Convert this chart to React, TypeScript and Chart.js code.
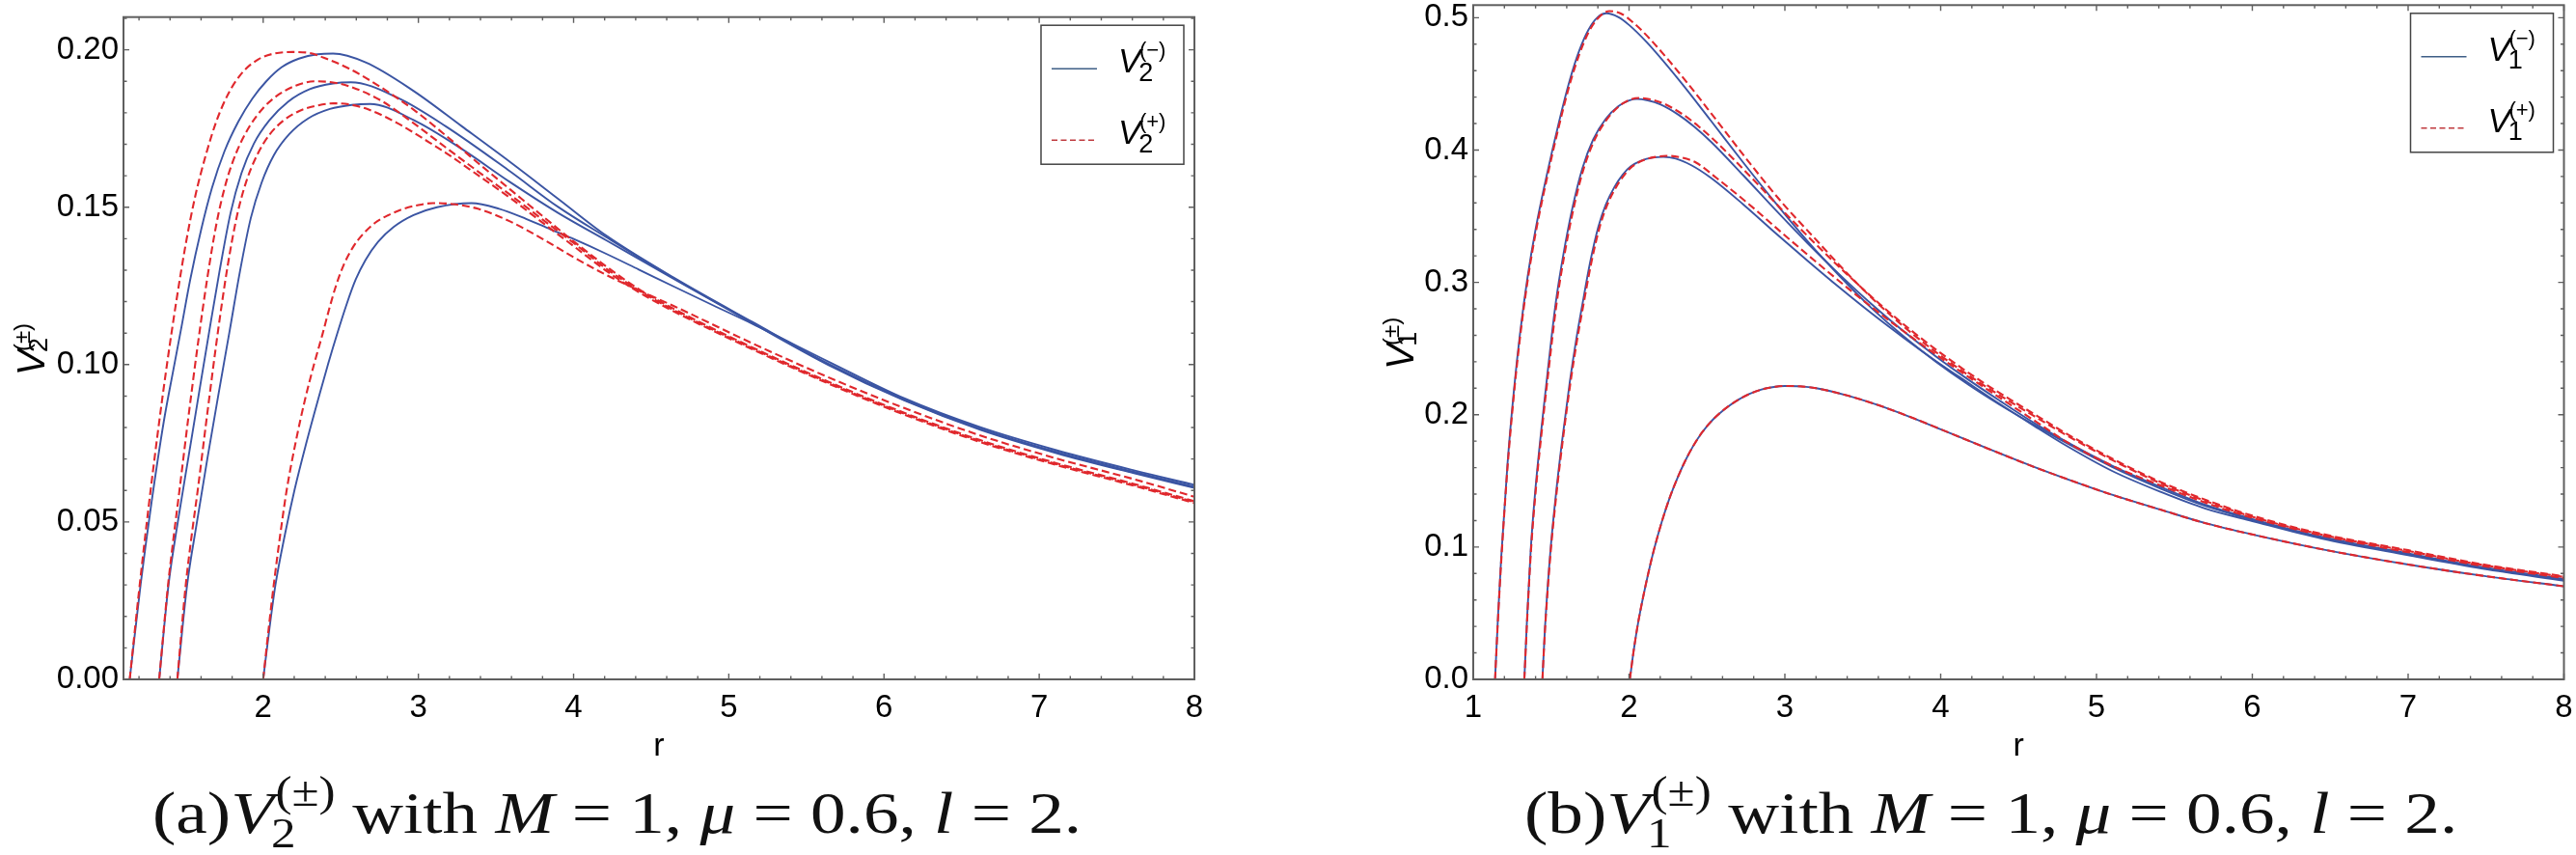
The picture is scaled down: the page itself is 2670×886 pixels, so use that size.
import React, { useEffect, useRef } from 'react';
import { Chart, registerables } from 'chart.js';

Chart.register(...registerables);

// ---------- panel (a): V2, blue = V2(-), red dashed = V2(+) ----------
const r2m1 = [1.14, 1.21, 1.28, 1.36, 1.42, 1.47, 1.53, 1.6, 1.67, 1.75, 1.84, 1.93, 2.02, 2.12, 2.23, 2.35, 2.45, 2.66, 2.97, 3.28, 3.59, 3.9, 4.21, 4.65, 5.15, 5.64, 6.13, 6.62, 7.11, 7.61, 8];
const v2m1 = [0, 0.03, 0.056, 0.082, 0.098, 0.111, 0.127, 0.1428, 0.1561, 0.1677, 0.1772, 0.1845, 0.19, 0.1945, 0.1972, 0.1986, 0.1988, 0.196, 0.1869, 0.1757, 0.1644, 0.1527, 0.141, 0.1275, 0.1136, 0.1003, 0.089, 0.0797, 0.0723, 0.0659, 0.0612];
const r2m2 = [1.33, 1.39, 1.45, 1.52, 1.59, 1.654, 1.72, 1.79, 1.86, 1.94, 2.04, 2.16, 2.3, 2.45, 2.565, 2.865, 3.176, 3.59, 3.9, 4.21, 4.65, 5.15, 5.64, 6.13, 6.62, 7.11, 7.61, 8];
const v2m2 = [0, 0.03, 0.05, 0.071, 0.092, 0.111, 0.13, 0.1482, 0.1608, 0.1702, 0.1776, 0.1835, 0.1875, 0.1893, 0.1897, 0.1848, 0.1757, 0.1614, 0.1501, 0.1405, 0.1273, 0.1134, 0.1001, 0.0888, 0.0795, 0.0721, 0.0657, 0.061];
const r2m3 = [1.447, 1.51, 1.57, 1.64, 1.71, 1.785, 1.85, 1.92, 1.99, 2.07, 2.17, 2.29, 2.43, 2.57, 2.689, 2.969, 3.28, 3.59, 3.9, 4.21, 4.65, 5.15, 5.64, 6.13, 6.62, 7.11, 7.61, 8];
const v2m3 = [0, 0.03, 0.049, 0.07, 0.09, 0.111, 0.1295, 0.1465, 0.1578, 0.1666, 0.1733, 0.1782, 0.1812, 0.1825, 0.1828, 0.1777, 0.1685, 0.158, 0.1482, 0.1395, 0.1271, 0.1132, 0.0999, 0.0886, 0.0793, 0.0719, 0.0655, 0.0608];
const r2m4 = [2.0, 2.04, 2.079, 2.14, 2.203, 2.28, 2.36, 2.42, 2.478, 2.54, 2.596, 2.66, 2.74, 2.84, 2.969, 3.12, 3.342, 3.52, 3.694, 3.85, 4.004, 4.21, 4.42, 4.65, 4.9, 5.15, 5.64, 6.13, 6.62, 7.11, 7.61, 8];
const v2m4 = [0, 0.016, 0.03, 0.046, 0.0604, 0.0755, 0.09, 0.1005, 0.11, 0.1195, 0.127, 0.1333, 0.139, 0.1437, 0.1475, 0.15, 0.1513, 0.1495, 0.1463, 0.143, 0.1398, 0.1352, 0.1302, 0.1247, 0.1188, 0.113, 0.101, 0.0893, 0.0801, 0.0728, 0.0664, 0.0618];

const r2p1 = [1.14, 1.2, 1.26, 1.32, 1.38, 1.44, 1.5, 1.56, 1.63, 1.7, 1.78, 1.87, 1.97, 2.07, 2.19, 2.3, 2.39, 2.555, 2.762, 2.969, 3.176, 3.383, 3.59, 3.797, 4.004, 4.21, 4.42, 4.65, 5.15, 5.64, 6.13, 6.62, 7.11, 7.61, 8];
const v2p1 = [0, 0.028, 0.054, 0.078, 0.1, 0.12, 0.138, 0.153, 0.1665, 0.1775, 0.1865, 0.193, 0.197, 0.1988, 0.1993, 0.199, 0.1975, 0.194, 0.188, 0.181, 0.1728, 0.1641, 0.1557, 0.1473, 0.139, 0.1312, 0.124, 0.1176, 0.1055, 0.0946, 0.0847, 0.076, 0.0687, 0.0621, 0.0566];
const r2p2 = [1.33, 1.385, 1.42, 1.458, 1.52, 1.582, 1.64, 1.7, 1.76, 1.83, 1.91, 2.0, 2.1, 2.21, 2.327, 2.44, 2.555, 2.762, 2.969, 3.176, 3.383, 3.59, 3.797, 4.004, 4.21, 4.42, 4.65, 5.15, 5.64, 6.13, 6.62, 7.11, 7.61, 8];
const v2p2 = [0, 0.029, 0.044, 0.059, 0.084, 0.1075, 0.1275, 0.145, 0.1577, 0.1677, 0.1755, 0.1815, 0.1858, 0.1886, 0.19, 0.1897, 0.1884, 0.1838, 0.1767, 0.169, 0.1614, 0.154, 0.1462, 0.1385, 0.1305, 0.1236, 0.1172, 0.1052, 0.0943, 0.0844, 0.0757, 0.0684, 0.0618, 0.0563];
const r2p3 = [1.447, 1.499, 1.54, 1.578, 1.64, 1.71, 1.77, 1.83, 1.89, 1.96, 2.04, 2.13, 2.23, 2.34, 2.451, 2.56, 2.68, 2.865, 3.07, 3.176, 3.383, 3.59, 3.797, 4.004, 4.21, 4.42, 4.65, 5.15, 5.64, 6.13, 6.62, 7.11, 7.61, 8];
const v2p3 = [0, 0.029, 0.046, 0.06, 0.0845, 0.111, 0.131, 0.147, 0.158, 0.1665, 0.173, 0.1775, 0.1805, 0.1822, 0.183, 0.1826, 0.181, 0.1767, 0.1706, 0.1673, 0.1602, 0.153, 0.1452, 0.1375, 0.1298, 0.123, 0.1168, 0.1049, 0.094, 0.0841, 0.0754, 0.0681, 0.0615, 0.056];
const r2p4 = [2.0, 2.035, 2.068, 2.11, 2.151, 2.21, 2.27, 2.33, 2.383, 2.43, 2.472, 2.52, 2.575, 2.64, 2.72, 2.803, 2.9, 3.0, 3.093, 3.22, 3.383, 3.59, 3.797, 4.004, 4.21, 4.42, 4.65, 5.15, 5.64, 6.13, 6.62, 7.11, 7.61, 8];
const v2p4 = [0, 0.016, 0.03, 0.046, 0.06, 0.0755, 0.089, 0.1005, 0.1098, 0.1185, 0.1255, 0.1318, 0.137, 0.1413, 0.145, 0.1474, 0.1494, 0.1507, 0.1513, 0.151, 0.1495, 0.1455, 0.14, 0.134, 0.1285, 0.1236, 0.1185, 0.1068, 0.096, 0.0862, 0.0775, 0.0702, 0.0636, 0.058];

// ---------- panel (b): V1 ----------
const r1m1 = [1.14, 1.16, 1.18, 1.22, 1.26, 1.3, 1.35, 1.4, 1.47, 1.55, 1.62, 1.68, 1.74, 1.8, 1.854, 1.93, 2.0, 2.113, 2.319, 2.525, 2.732, 2.938, 3.144, 3.351, 3.557, 3.764, 3.97, 4.177, 4.38, 4.59, 4.8, 5.1, 5.415, 5.7, 6.0, 6.444, 7.0, 7.478, 8.0];
const v1m1 = [0, 0.05, 0.093, 0.163, 0.217, 0.261, 0.305, 0.34, 0.38, 0.421, 0.453, 0.475, 0.491, 0.5005, 0.5033, 0.5005, 0.4945, 0.4815, 0.4531, 0.4222, 0.3907, 0.3603, 0.3313, 0.3048, 0.2805, 0.259, 0.24, 0.2228, 0.2075, 0.193, 0.179, 0.1605, 0.144, 0.131, 0.1205, 0.1071, 0.0945, 0.0842, 0.0752];
const r1m2 = [1.328, 1.345, 1.369, 1.4, 1.44, 1.48, 1.53, 1.58, 1.64, 1.7, 1.77, 1.85, 1.93, 2.0, 2.051, 2.12, 2.2, 2.319, 2.42, 2.528, 2.732, 2.938, 3.144, 3.35, 3.557, 3.764, 3.97, 4.177, 4.38, 4.59, 4.8, 5.1, 5.415, 5.7, 6.0, 6.444, 7.0, 7.478, 8.0];
const v1m2 = [0, 0.045, 0.098, 0.145, 0.192, 0.235, 0.285, 0.322, 0.358, 0.386, 0.408, 0.4235, 0.433, 0.4375, 0.4386, 0.4375, 0.4345, 0.4265, 0.4175, 0.406, 0.381, 0.355, 0.3298, 0.306, 0.2835, 0.2628, 0.244, 0.2265, 0.2105, 0.1945, 0.18, 0.1615, 0.1452, 0.1318, 0.1212, 0.1078, 0.0952, 0.0848, 0.0758];
const r1m3 = [1.444, 1.46, 1.494, 1.53, 1.57, 1.62, 1.66, 1.7, 1.75, 1.803, 1.85, 1.906, 1.96, 2.01, 2.08, 2.15, 2.22, 2.3, 2.4, 2.525, 2.732, 2.938, 3.144, 3.351, 3.557, 3.764, 3.97, 4.177, 4.4, 4.6, 4.8, 5.1, 5.415, 5.7, 6.0, 6.444, 7.0, 7.478, 8.0];
const v1m3 = [0, 0.038, 0.095, 0.139, 0.18, 0.225, 0.256, 0.283, 0.315, 0.342, 0.3585, 0.372, 0.3815, 0.3875, 0.392, 0.3942, 0.3948, 0.3935, 0.3885, 0.379, 0.359, 0.3375, 0.3165, 0.296, 0.2765, 0.258, 0.2405, 0.224, 0.2065, 0.1915, 0.177, 0.1575, 0.1415, 0.129, 0.1196, 0.1064, 0.0938, 0.0836, 0.0746];
const r1p1 = [1.14, 1.16, 1.18, 1.22, 1.26, 1.3, 1.35, 1.4, 1.47, 1.55, 1.62, 1.68, 1.74, 1.8, 1.875, 1.95, 2.03, 2.14, 2.35, 2.56, 2.77, 2.98, 3.19, 3.4, 3.61, 3.82, 4.03, 4.24, 4.45, 4.62, 4.8, 5.1, 5.415, 5.7, 6.0, 6.444, 7.0, 7.478, 8.0];
const v1p1 = [0, 0.048, 0.09, 0.16, 0.214, 0.258, 0.302, 0.337, 0.377, 0.418, 0.45, 0.472, 0.489, 0.4995, 0.505, 0.503, 0.496, 0.4832, 0.4542, 0.4227, 0.3908, 0.3605, 0.3335, 0.3068, 0.2825, 0.261, 0.242, 0.225, 0.2095, 0.1975, 0.185, 0.1658, 0.148, 0.1348, 0.1229, 0.1094, 0.097, 0.0864, 0.0774];
const r1p2 = [1.328, 1.346, 1.371, 1.403, 1.444, 1.485, 1.536, 1.587, 1.648, 1.709, 1.78, 1.86, 1.94, 2.01, 2.067, 2.14, 2.22, 2.35, 2.45, 2.56, 2.77, 2.98, 3.19, 3.4, 3.61, 3.82, 4.03, 4.24, 4.45, 4.62, 4.8, 5.1, 5.415, 5.7, 6.0, 6.444, 7.0, 7.478, 8.0];
const v1p2 = [0, 0.045, 0.098, 0.145, 0.192, 0.235, 0.285, 0.322, 0.358, 0.386, 0.408, 0.4235, 0.4335, 0.4382, 0.4393, 0.4382, 0.4352, 0.4265, 0.4175, 0.406, 0.381, 0.355, 0.3298, 0.306, 0.2835, 0.2628, 0.244, 0.2268, 0.2112, 0.199, 0.1862, 0.1668, 0.149, 0.1357, 0.1237, 0.11, 0.0976, 0.0869, 0.0779];
const r1p3 = [1.444, 1.461, 1.496, 1.533, 1.574, 1.625, 1.666, 1.707, 1.758, 1.812, 1.86, 1.917, 1.972, 2.023, 2.095, 2.17, 2.24, 2.33, 2.43, 2.56, 2.77, 2.98, 3.19, 3.4, 3.61, 3.82, 4.03, 4.23, 4.45, 4.62, 4.8, 5.1, 5.415, 5.7, 6.0, 6.444, 7.0, 7.478, 8.0];
const v1p3 = [0, 0.038, 0.095, 0.139, 0.18, 0.225, 0.256, 0.283, 0.315, 0.342, 0.3585, 0.372, 0.3815, 0.3878, 0.3925, 0.3948, 0.3956, 0.3945, 0.3905, 0.379, 0.359, 0.3375, 0.3165, 0.296, 0.2765, 0.258, 0.2405, 0.2245, 0.2073, 0.1941, 0.18, 0.1615, 0.1464, 0.1335, 0.1221, 0.1088, 0.0961, 0.0857, 0.0766];
// the fourth pair lies on top of each other
const r1c4 = [2.005, 2.03, 2.06, 2.09, 2.125, 2.16, 2.21, 2.26, 2.31, 2.36, 2.41, 2.468, 2.54, 2.628, 2.7, 2.77, 2.85, 2.92, 3.0, 3.1, 3.2, 3.4, 3.6, 3.8, 4.0, 4.3, 4.6, 4.8, 5.1, 5.415, 5.7, 6.0, 6.444, 7.0, 7.478, 8.0];
const v1c4 = [0, 0.022, 0.044, 0.062, 0.081, 0.098, 0.119, 0.137, 0.152, 0.165, 0.176, 0.1865, 0.1965, 0.2055, 0.2112, 0.2155, 0.219, 0.2208, 0.2217, 0.2214, 0.22, 0.2145, 0.2072, 0.1985, 0.189, 0.1745, 0.1605, 0.1518, 0.1395, 0.1281, 0.118, 0.1095, 0.0984, 0.0868, 0.0783, 0.0703];

// ticks
const xTicksA = [2, 3, 4, 5, 6, 7, 8];
const yTicksA = [0, 0.05, 0.1, 0.15, 0.2];
const xTicksB = [1, 2, 3, 4, 5, 6, 7, 8];
const yTicksB = [0, 0.1, 0.2, 0.3, 0.4, 0.5];

const BLUE = '#3b55a3';
const RED = '#e0282d';
const LEG_BLUE = '#3e5f86';
const LEG_RED = '#bf3a3e';
const FRAME = '#5f5f5f';
const SANS = '"Liberation Sans", Arial, Helvetica, sans-serif';
const SERIF = '"Liberation Serif", "Times New Roman", serif';

const W = 1335;
const H = 800;

type Curve = { r: number[]; v: number[]; dashed: boolean };

type Panel = {
  xMin: number; xMax: number; yMin: number; yMax: number;
  xTicks: number[]; yTicks: number[];
  xMinor: number; yMinor: number; digits: number;
  area: { left: number; top: number; right: number; bottom: number };
  titleOffset: number;
  idx: string;
  curves: Curve[];
};

const panelA: Panel = {
  xMin: 1.1, xMax: 8, yMin: 0, yMax: 0.2104,
  xTicks: xTicksA, yTicks: yTicksA, xMinor: 0.2, yMinor: 0.01, digits: 2,
  area: { left: 128, top: 17.7, right: 1238, bottom: 704 },
  titleOffset: 82,
  idx: '2',
  curves: [
    { r: r2m1, v: v2m1, dashed: false }, { r: r2m2, v: v2m2, dashed: false },
    { r: r2m3, v: v2m3, dashed: false }, { r: r2m4, v: v2m4, dashed: false },
    { r: r2p1, v: v2p1, dashed: true }, { r: r2p2, v: v2p2, dashed: true },
    { r: r2p3, v: v2p3, dashed: true }, { r: r2p4, v: v2p4, dashed: true },
  ],
};

const panelB: Panel = {
  xMin: 1, xMax: 8, yMin: 0, yMax: 0.5095,
  xTicks: xTicksB, yTicks: yTicksB, xMinor: 0.2, yMinor: 0.02, digits: 1,
  area: { left: 192, top: 5.3, right: 1322.5, bottom: 704 },
  titleOffset: 62,
  idx: '1',
  curves: [
    { r: r1m1, v: v1m1, dashed: false }, { r: r1m2, v: v1m2, dashed: false },
    { r: r1m3, v: v1m3, dashed: false }, { r: r1c4, v: v1c4, dashed: false },
    { r: r1p1, v: v1p1, dashed: true }, { r: r1p2, v: v1p2, dashed: true },
    { r: r1p3, v: v1p3, dashed: true }, { r: r1c4, v: v1c4, dashed: true },
  ],
};

function minorValues(min: number, max: number, step: number) {
  const out: number[] = [];
  for (let k = Math.ceil(min / step - 1e-9); k * step <= max + 1e-9; k++) out.push(+(k * step).toFixed(4));
  return out;
}

// V with a subscript and a superscript, drawn left to right from (x, y)
function scripted(ctx: CanvasRenderingContext2D, x: number, y: number, sub: string, sup: string, size: number, subSize: number, supSize: number, subDrop: number, supRise: number) {
  ctx.font = `italic ${size}px ${SANS}`;
  ctx.fillText('V', x, y);
  const w = ctx.measureText('V').width;
  ctx.font = `${subSize}px ${SANS}`;
  ctx.fillText(sub, x + w - size * 0.06, y + subDrop);
  ctx.font = `${supSize}px ${SANS}`;
  ctx.fillText(sup, x + w - size * 0.04, y - supRise);
}

function makeDecor(p: Panel) {
  return {
    id: 'decor',
    afterDraw(chart: Chart) {
      const { ctx, chartArea: a } = chart;
      const xs = chart.scales.x;
      const ys = chart.scales.y;
      ctx.save();
      // ticks pointing inward on all four sides
      ctx.strokeStyle = FRAME;
      ctx.lineWidth = 1.4;
      ctx.beginPath();
      const xMajor = new Set(p.xTicks.map((t) => t.toFixed(3)));
      minorValues(p.xMin, p.xMax, p.xMinor).forEach((v) => {
        const len = xMajor.has(v.toFixed(3)) ? 6 : 3.5;
        const px = xs.getPixelForValue(v);
        ctx.moveTo(px, a.bottom); ctx.lineTo(px, a.bottom - len);
        ctx.moveTo(px, a.top); ctx.lineTo(px, a.top + len);
      });
      const yMajor = new Set(p.yTicks.map((t) => t.toFixed(3)));
      minorValues(p.yMin, p.yMax, p.yMinor).forEach((v) => {
        const len = yMajor.has(v.toFixed(3)) ? 6 : 3.5;
        const py = ys.getPixelForValue(v);
        ctx.moveTo(a.left, py); ctx.lineTo(a.left + len, py);
        ctx.moveTo(a.right, py); ctx.lineTo(a.right - len, py);
      });
      ctx.stroke();
      ctx.lineWidth = 2;
      ctx.strokeRect(a.left, a.top, a.right - a.left, a.bottom - a.top);

      // y axis title, rotated
      ctx.fillStyle = '#000';
      ctx.textBaseline = 'alphabetic';
      ctx.textAlign = 'left';
      ctx.save();
      ctx.translate(a.left - p.titleOffset, (a.top + a.bottom) / 2);
      ctx.rotate(-Math.PI / 2);
      ctx.font = `italic 40px ${SANS}`;
      const tw = ctx.measureText('V').width + 30;
      scripted(ctx, -tw / 2, 0, p.idx, '(±)', 40, 27, 24, 3, 15);
      ctx.restore();

      // legend box
      const bx = a.right - 159;
      const by = a.top + 8.5;
      ctx.fillStyle = '#fff';
      ctx.fillRect(bx, by, 148, 144);
      ctx.strokeStyle = '#444';
      ctx.lineWidth = 1.5;
      ctx.strokeRect(bx, by, 148, 144);
      const rows = [
        { color: LEG_BLUE, dash: [] as number[], sup: '(\u2212)', dy: 45 },
        { color: LEG_RED, dash: [6, 3.5], sup: '(+)', dy: 119 },
      ];
      rows.forEach((row) => {
        ctx.strokeStyle = row.color;
        ctx.lineWidth = 1.6;
        ctx.setLineDash(row.dash);
        ctx.beginPath();
        ctx.moveTo(bx + 11, by + row.dy);
        ctx.lineTo(bx + 58, by + row.dy);
        ctx.stroke();
        ctx.setLineDash([]);
        ctx.fillStyle = '#000';
        scripted(ctx, bx + 80, by + row.dy + 4, p.idx, row.sup, 35, 27, 22, 8.5, 16);
      });
      ctx.restore();
    },
  };
}

function PanelChart({ p, left }: { p: Panel; left: number }) {
  const ref = useRef<HTMLCanvasElement | null>(null);
  const chartRef = useRef<Chart | null>(null);

  useEffect(() => {
    if (!ref.current) return;
    const ctx = ref.current.getContext('2d');
    if (!ctx) return;
    if (chartRef.current) chartRef.current.destroy();

    const datasets = p.curves.map((c) => ({
      data: c.r.map((x, i) => ({ x, y: c.v[i] })),
      borderColor: c.dashed ? RED : BLUE,
      borderWidth: c.dashed ? 2.1 : 1.9,
      borderDash: c.dashed ? [8, 4] : [],
      pointRadius: 0,
      fill: false,
      cubicInterpolationMode: 'monotone' as const,
      order: c.dashed ? 0 : 1,
    }));

    const tickFont = { family: SANS, size: 33 };

    chartRef.current = new Chart(ctx, {
      type: 'line',
      data: { datasets },
      options: {
        responsive: false,
        animation: false,
        events: [],
        layout: { padding: { left: 0, top: p.area.top, right: W - p.area.right, bottom: 0 } },
        plugins: { legend: { display: false }, tooltip: { enabled: false } },
        scales: {
          x: {
            type: 'linear',
            min: p.xMin,
            max: p.xMax,
            grid: { display: false, drawTicks: false },
            border: { display: false },
            afterBuildTicks: (s: any) => { s.ticks = p.xTicks.map((value) => ({ value })); },
            afterFit: (s: any) => { s.height = H - p.area.bottom; s.paddingLeft = 0; s.paddingRight = 0; },
            ticks: { color: '#000', font: tickFont, padding: 10, maxRotation: 0, autoSkip: false, callback: (v: any) => String(v) },
            title: { display: true, text: 'r', color: '#000', font: { family: SANS, size: 34 }, padding: { top: 0, bottom: 6 } },
          },
          y: {
            type: 'linear',
            min: p.yMin,
            max: p.yMax,
            grid: { display: false, drawTicks: false },
            border: { display: false },
            afterBuildTicks: (s: any) => { s.ticks = p.yTicks.map((value) => ({ value })); },
            afterFit: (s: any) => { s.width = p.area.left; s.paddingTop = 0; s.paddingBottom = 0; },
            ticks: { color: '#000', font: tickFont, padding: 5, autoSkip: false, callback: (v: any) => Number(v).toFixed(p.digits) },
          },
        },
      },
      plugins: [makeDecor(p)],
    });

    return () => {
      if (chartRef.current) {
        chartRef.current.destroy();
        chartRef.current = null;
      }
    };
  }, [p]);

  return <canvas ref={ref} width={W} height={H} style={{ position: 'absolute', left, top: 0, width: W, height: H }} />;
}

const CAP = 62;

function Scripts({ sub, sup }: { sub: string; sup: string }) {
  const f = CAP * 0.7;
  return (
    <span style={{ position: 'relative', display: 'inline-block', width: CAP * 0.86, height: 0 }}>
      <span style={{ position: 'absolute', left: CAP * 0.02, top: -CAP * 0.45 - f * 0.8375, fontSize: f, lineHeight: 1 }}>{sup}</span>
      <span style={{ position: 'absolute', left: -CAP * 0.04, top: CAP * 0.25 - f * 0.8375, fontSize: f, lineHeight: 1 }}>{sub}</span>
    </span>
  );
}

function Caption({ x, tag, idx }: { x: number; tag: string; idx: string }) {
  return (
    <div
      style={{
        position: 'absolute', left: x, top: 863 - CAP * 0.8375,
        transform: 'scaleX(1.18)', transformOrigin: 'left top',
        whiteSpace: 'nowrap', fontFamily: SERIF, fontSize: CAP, lineHeight: 1, color: '#111',
      }}
    >
      ({tag})<i>V</i><Scripts sub={idx} sup="(±)" />{' with '}<i>M</i>{' = 1, '}<i>μ</i>{' = 0.6, '}<i>l</i>{' = 2.'}
    </div>
  );
}

export default function App() {
  return (
    <div style={{ position: 'fixed', left: 0, top: 0, width: 2670, height: 886, background: '#fff', overflow: 'hidden' }}>
      <PanelChart p={panelA} left={0} />
      <PanelChart p={panelB} left={1335} />
      <Caption x={158} tag="a" idx="2" />
      <Caption x={1580} tag="b" idx="1" />
    </div>
  );
}
